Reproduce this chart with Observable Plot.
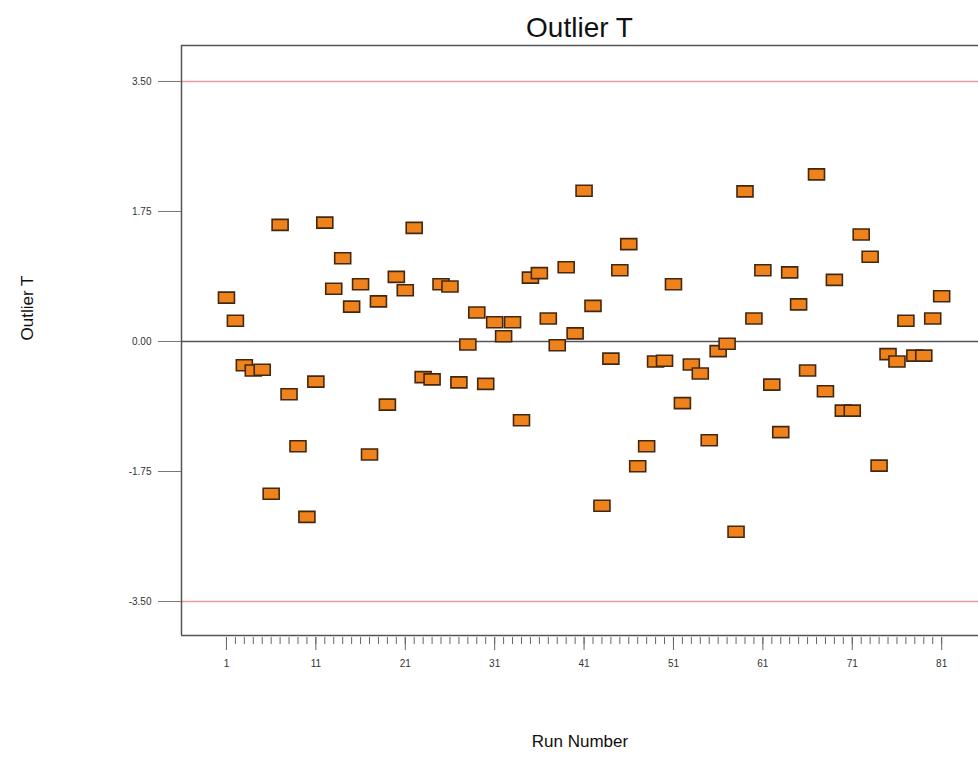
<!DOCTYPE html>
<html>
<head>
<meta charset="utf-8">
<script src="https://cdn.jsdelivr.net/npm/d3@7"></script>
<script src="https://cdn.jsdelivr.net/npm/@observablehq/plot@0.6"></script>
<style>
  html, body { margin: 0; padding: 0; background: #fff; }
  #wrap { position: relative; width: 978px; height: 760px; font-family: "Liberation Sans", Arial, sans-serif; }
  #title { position: absolute; left: 181px; width: 797px; top: 9px; text-align: center; font-size: 28px; line-height: 38px; color: #111; }
  #chart { position: absolute; left: 0; top: 45px; }
</style>
</head>
<body>
<div id="wrap">
  <div id="title">Outlier T</div>
  <div id="chart"></div>
</div>
<script>
// Run numbers and externally studentized residuals (Outlier T)
const runs = [
  1,2,3,4,5,6,7,8,9,10,11,12,13,14,15,16,17,18,19,20,
  21,22,23,24,25,26,27,28,29,30,31,32,33,34,35,36,37,38,39,40,
  41,42,43,44,45,46,47,48,49,50,51,52,53,54,55,56,57,58,59,60,
  61,62,63,64,65,66,67,68,69,70,71,72,73,74,75,76,77,78,79,80,81
];
const outlierT = [
  0.59, 0.28, -0.32, -0.39, -0.38, -2.05, 1.57, -0.71, -1.41, -2.36,
  -0.54, 1.60, 0.71, 1.12, 0.47, 0.77, -1.52, 0.54, -0.85, 0.87,
  0.69, 1.53, -0.48, -0.51, 0.77, 0.74, -0.55, -0.04, 0.39, -0.57,
  0.26, 0.07, 0.26, -1.06, 0.86, 0.92, 0.31, -0.05, 1.00, 0.11,
  2.03, 0.48, -2.21, -0.23, 0.96, 1.31, -1.68, -1.41, -0.27, -0.26,
  0.77, -0.83, -0.31, -0.43, -1.33, -0.13, -0.03, -2.56, 2.02, 0.31,
  0.96, -0.58, -1.22, 0.93, 0.50, -0.39, 2.25, -0.67, 0.83, -0.93,
  -0.93, 1.44, 1.14, -1.67, -0.17, -0.27, 0.28, -0.19, -0.19, 0.31, 0.61
];
const limits = [3.5, -3.5];
const yTicks = [3.5, 1.75, 0, -1.75, -3.5];
const xMajorTicks = [1, 11, 21, 31, 41, 51, 61, 71, 81];
const xMinorTicks = runs;

const data = runs.map((r, i) => ({run: r, t: outlierT[i]}));

const xDomain = [-4.03, 85.12];
const yDomain = [-3.957, 3.984];

const rectSymbol = {
  draw(context) {
    const w = 16, h = 11;
    context.moveTo(-w / 2, -h / 2);
    context.lineTo(w / 2, -h / 2);
    context.lineTo(w / 2, h / 2);
    context.lineTo(-w / 2, h / 2);
    context.closePath();
  }
};

const chart = Plot.plot({
  width: 978,
  height: 715,
  marginLeft: 181,
  marginRight: 0,
  marginTop: 0,
  marginBottom: 125,
  style: { fontFamily: "'Liberation Sans', Arial, sans-serif", background: "#fff", overflow: "visible" },
  x: { domain: xDomain },
  y: { domain: yDomain },
  marks: [
    Plot.ruleY(limits, { stroke: "#eb9c9c", strokeWidth: 1.5 }),
    Plot.ruleY([0], { stroke: "#555", strokeWidth: 1.5 }),
    Plot.ruleY([yDomain[1], yDomain[0]], { stroke: "#555", strokeWidth: 1.5 }),
    Plot.ruleX([xDomain[0]], { stroke: "#555", strokeWidth: 1.5 }),
    Plot.axisY({
      ticks: yTicks, tickSize: 23, tickPadding: 7, fontSize: 10,
      tickFormat: d => d.toFixed(2), stroke: "#777", color: "#333", label: null
    }),
    Plot.axisX({
      ticks: xMinorTicks, tickSize: 7, tickFormat: () => "", dy: 2,
      stroke: "#666", label: null
    }),
    Plot.axisX({
      ticks: xMajorTicks, tickSize: 13, tickPadding: 9, fontSize: 10, dy: 2,
      tickFormat: d => String(d), stroke: "#666", color: "#333", label: null
    }),
    Plot.dot(data, {
      x: "run", y: "t", symbol: rectSymbol, r: 6,
      fill: "#f0821c", stroke: "#432810", strokeWidth: 1.6
    }),
    Plot.text(["Outlier T"], {
      frameAnchor: "left", dx: -154, rotate: -90, fontSize: 17, fill: "#111"
    }),
    Plot.text(["Run Number"], {
      frameAnchor: "bottom", dy: 111, fontSize: 17, fill: "#111"
    })
  ]
});
document.getElementById("chart").appendChild(chart);
</script>
</body>
</html>
